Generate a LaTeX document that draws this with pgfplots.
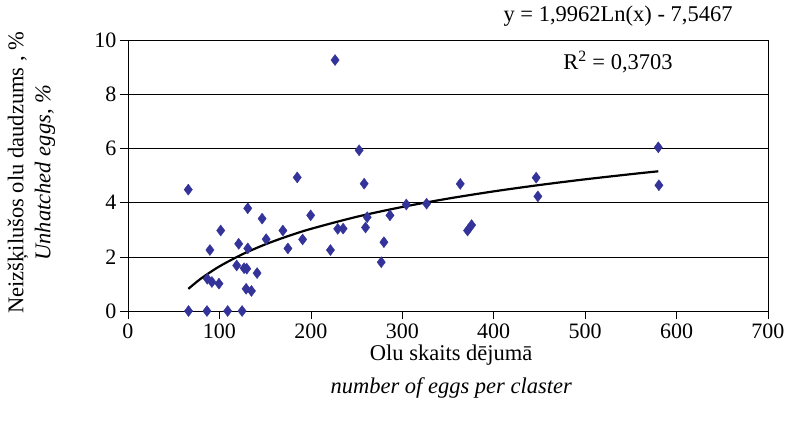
\documentclass[border=0pt]{standalone}
\usepackage{pgfplots}
\pgfplotsset{compat=1.18}
\usepackage{fontspec}
\setmainfont{Liberation Serif}
\definecolor{navy}{RGB}{51,51,153}
\begin{document}
\begin{tikzpicture}[x=1pt,y=1pt]
\useasboundingbox (-128,-120) rectangle (659,311);
\begin{axis}[
  at={(0,0)}, anchor=south west,
  scale only axis,
  width=640pt, height=271pt,
  xmin=0, xmax=700, ymin=0, ymax=10,
  xtick={0,100,...,700}, ytick={0,2,...,10},
  ymajorgrids, major grid style={black, line width=0.6pt},
  axis line style={black, line width=0.9pt},
  tick align=outside, major tick length=8pt,
  tick style={black, line width=0.6pt},
  xtick pos=bottom, ytick pos=left,
  /pgf/number format/assume math mode=true,
  ticklabel style={font=\fontsize{22}{26}\selectfont},
  xticklabel style={yshift=-1pt},
  xlabel={Olu skaits dējumā\\[9pt]\textit{number of eggs per claster}},
  xlabel style={at={(axis description cs:0.505,0)}, anchor=center, yshift=-61pt, align=center, font=\fontsize{22.5}{24}\selectfont},
  ylabel={Neizšķilušos olu daudzums , \%\\ \textit{Unhatched eggs, \%}},
  ylabel style={at={(axis description cs:-0.151,0.51)}, anchor=center, align=center, font=\fontsize{22.5}{27}\selectfont},
  clip=false,
]
\addplot[only marks, mark=diamond*, mark size=5.5pt, color=navy] table {
x y
65.9 4.48
66.2 0
86.4 0
109 0
124.8 0
89.6 2.25
101.4 2.97
86.7 1.19
91.8 1.07
99.5 1.01
121.1 2.48
131 3.79
131 2.31
118.9 1.68
127 1.58
129.9 1.56
129.2 0.82
135 0.74
141.2 1.40
146.7 3.41
151.1 2.65
169.4 2.97
174.9 2.31
185.1 4.93
191 2.64
199.8 3.53
221.4 2.25
226.5 9.26
229.4 3.03
235.3 3.04
252.8 5.93
258.3 4.70
259.8 3.08
261.6 3.46
277 1.80
279.9 2.54
286.5 3.53
304.4 3.93
326.6 3.96
363.4 4.69
371.4 2.97
375.8 3.17
446.4 4.92
448.3 4.23
580 6.04
580.7 4.64
};
\addplot[black, line width=2.2pt, smooth] table {
x y
66 0.817
80 1.201
100 1.646
125 2.092
150 2.456
175 2.763
200 3.030
250 3.475
300 3.839
350 4.147
400 4.414
450 4.649
500 4.859
550 5.049
580 5.155
};
\node[font=\fontsize{22.5}{26}\selectfont] at (axis cs:536,10.88) {y = 1,9962Ln(x) - 7,5467};
\node[font=\fontsize{22.5}{26}\selectfont] at (axis cs:536,9.19) {R\textsuperscript{2} = 0,3703};
\end{axis}
\end{tikzpicture}
\end{document}
